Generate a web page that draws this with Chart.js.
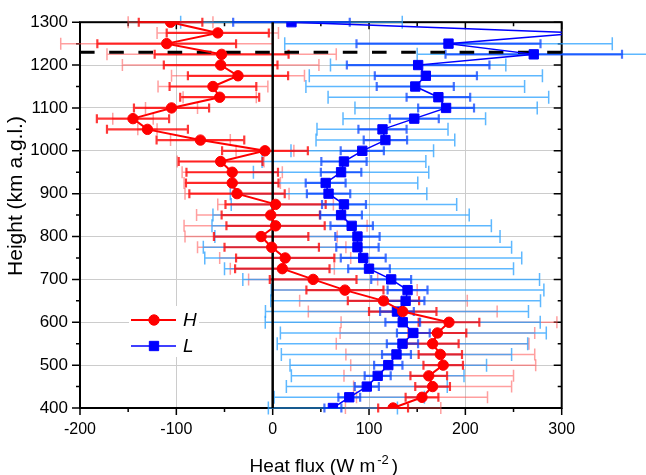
<!DOCTYPE html>
<html>
<head>
<meta charset="utf-8">
<script src="https://cdn.jsdelivr.net/npm/chart.js@4.4.0/dist/chart.umd.min.js"></script>
<style>
  html, body { margin: 0; padding: 0; background: #fff; }
  canvas { display: block; }
</style>
</head>
<body>
<canvas id="fluxChart" width="646" height="475"></canvas>
<script>
// Profile levels (km a.g.l.)
const HEIGHTS = [400, 425, 450, 475, 500, 525, 550, 575, 600, 625, 650, 675, 700, 725, 750, 775, 800, 825, 850,
    875, 900, 925, 950, 975, 1000, 1025, 1050, 1075, 1100, 1125, 1150, 1175, 1200, 1225, 1250, 1275, 1300];

// H profile: mean flux and the two error half-widths (short dark bar, long light bar)
const H_FLUX = [125, 155, 166, 162, 177, 174, 166, 171, 183, 135, 115, 75, 42, 10, 13, -1, -12, 3, -2,
    3, -37, -42, -42, -54, -8, -75, -130, -145, -105, -55, -62, -36, -54, -53, -110, -57, -106];
const H_ERR_DARK = [15.5, 17, 18, 19, 20.5, 22.5, 27, 30, 31.5, 35, 37, 40, 45, 49, 51, 49, 49, 51, 51,
    52, 49.5, 48, 47.5, 43.5, 44.5, 45.5, 42, 37.5, 39, 41, 45, 52, 59, 69.5, 72, 53, 33];
const H_ERR_LIGHT = [49.5, 68, 82, 88, 96, 98, 100, 101, 112, 98, 87, 75, 67, 54, 68, 77, 79, 95, 77,
    60, 54, 50, 52, 45, 30, 31, 10, 21, 27, 38, 57, 69, 102, 119, 110, 63, 44];

// L profile
const L_FLUX = [62.5, 79.5, 97.7, 109, 120, 128.5, 134.7, 146, 135, 129, 138, 140, 123, 100, 94, 88, 88, 82, 71,
    74, 58, 55, 71, 74, 93, 117, 114, 147, 180, 172, 148, 159, 151, 271, 182.5, 322, 19.5];
const L_ERR_DARK = [8.8, 11.3, 12.5, 13.5, 14.7, 15, 16.2, 17, 18, 17.5, 19.5, 20.7, 20.7, 21.6, 23.3, 22, 23, 22, 21.6,
    22.8, 22.5, 20.7, 21, 23.5, 22.4, 22.5, 25, 25.4, 29, 33, 40, 53, 74, 91.6, 95.5, 0, 60.5];
const L_ERR_LIGHT = [67, 78, 83.5, 89.6, 102, 119.5, 130, 138, 142.7, 136.5, 140, 141.5, 154, 150, 164.5, 160, 148, 145, 133,
    117, 102, 95.6, 91, 85, 74, 72, 68, 74, 94.6, 114.5, 113.5, 121, 91, 121, 170, 0, 115];

// Axis ranges and ticks
const X_MIN = -200, X_MAX = 300, X_STEP = 100;
const Y_MIN = 400, Y_MAX = 1300, Y_STEP = 100;
const DASHED_HEIGHT = 1230;

const FONT = "'Liberation Sans', Arial, sans-serif";

function toPoints(values) {
    return HEIGHTS.map((h, i) => ({ x: values[i], y: h }));
}

function drawErrorBars(ctx, xs, ys, values, errs, color, width, capHalf) {
    ctx.save();
    ctx.strokeStyle = color;
    ctx.lineWidth = width;
    HEIGHTS.forEach((h, i) => {
        const e = errs[i];
        if (!e) return;
        const y = ys.getPixelForValue(h);
        const x1 = xs.getPixelForValue(values[i] - e);
        const x2 = xs.getPixelForValue(values[i] + e);
        ctx.beginPath();
        ctx.moveTo(x1, y);
        ctx.lineTo(x2, y);
        ctx.moveTo(x1, y - capHalf);
        ctx.lineTo(x1, y + capHalf);
        ctx.moveTo(x2, y - capHalf);
        ctx.lineTo(x2, y + capHalf);
        ctx.stroke();
    });
    ctx.restore();
}

// Frame, tick marks, error bars, zero line and dashed level: all under the data lines
const underlayPlugin = {
    id: 'underlay',
    beforeDatasetsDraw(chart) {
        const { ctx, chartArea: a, scales: { x, y } } = chart;
        ctx.save();
        ctx.strokeStyle = '#000';
        ctx.lineWidth = 1.5;
        ctx.beginPath();
        for (let v = X_MIN; v <= X_MAX; v += X_STEP / 2) {
            const px = x.getPixelForValue(v);
            const len = v % X_STEP === 0 ? 7 : 4;
            ctx.moveTo(px, a.bottom); ctx.lineTo(px, a.bottom + len);
            ctx.moveTo(px, a.top); ctx.lineTo(px, a.top + len);
        }
        for (let v = Y_MIN; v <= Y_MAX; v += Y_STEP / 2) {
            const py = y.getPixelForValue(v);
            const len = v % Y_STEP === 0 ? 8 : 4;
            ctx.moveTo(a.left, py); ctx.lineTo(a.left - len, py);
            ctx.moveTo(a.right, py); ctx.lineTo(a.right - len, py);
        }
        ctx.stroke();
        ctx.lineWidth = 2;
        ctx.strokeRect(a.left, a.top, a.right - a.left, a.bottom - a.top);
        ctx.restore();

        drawErrorBars(ctx, x, y, H_FLUX, H_ERR_LIGHT, 'rgba(255, 80, 80, 0.55)', 1.5, 6);
        drawErrorBars(ctx, x, y, L_FLUX, L_ERR_LIGHT, 'rgba(40, 160, 255, 0.75)', 1.5, 6.5);
        drawErrorBars(ctx, x, y, H_FLUX, H_ERR_DARK, 'rgba(255, 0, 0, 0.78)', 2.2, 4.5);
        drawErrorBars(ctx, x, y, L_FLUX, L_ERR_DARK, 'rgba(0, 60, 255, 0.72)', 2.2, 4.5);

        ctx.save();
        ctx.strokeStyle = '#000';
        ctx.lineWidth = 2.5;
        const x0 = x.getPixelForValue(0);
        ctx.beginPath();
        ctx.moveTo(x0, a.top);
        ctx.lineTo(x0, a.bottom);
        ctx.stroke();

        ctx.lineWidth = 3;
        ctx.setLineDash([14.6, 14.6]);
        const yd = y.getPixelForValue(DASHED_HEIGHT);
        ctx.beginPath();
        ctx.moveTo(a.left, yd);
        ctx.lineTo(a.right, yd);
        ctx.stroke();
        ctx.restore();
    }
};

// Legend box inside the plot and the axis titles
const overlayPlugin = {
    id: 'overlay',
    afterDraw(chart) {
        const { ctx, chartArea: a } = chart;
        ctx.save();
        ctx.fillStyle = '#fff';
        ctx.fillRect(129, 306, 70, 51);

        chart.data.datasets.forEach((ds, i) => {
            const ly = 320 + i * 26;
            ctx.strokeStyle = ds.borderColor;
            ctx.lineWidth = ds.borderWidth;
            ctx.beginPath();
            ctx.moveTo(131, ly);
            ctx.lineTo(176, ly);
            ctx.stroke();
            ctx.fillStyle = ds.pointBackgroundColor;
            ctx.strokeStyle = ds.pointBorderColor;
            ctx.lineWidth = 1;
            ctx.beginPath();
            if (ds.pointStyle === 'circle') {
                ctx.arc(154, ly, ds.pointRadius, 0, Math.PI * 2);
            } else {
                const s = ds.pointRadius * Math.SQRT1_2;
                ctx.rect(154 - s, ly - s, 2 * s, 2 * s);
            }
            ctx.fill();
            ctx.stroke();
            ctx.fillStyle = '#000';
            ctx.font = 'italic 19px ' + FONT;
            ctx.textBaseline = 'middle';
            ctx.textAlign = 'left';
            ctx.fillText(ds.label, 183, ly + 1);
        });

        // x title with superscript
        ctx.fillStyle = '#000';
        ctx.textBaseline = 'alphabetic';
        ctx.textAlign = 'left';
        const main = 'Heat flux (W m';
        ctx.font = '19px ' + FONT;
        const wMain = ctx.measureText(main).width;
        const wClose = ctx.measureText(')').width;
        ctx.font = '13px ' + FONT;
        const wSup = ctx.measureText('-2').width;
        const total = wMain + 2 + wSup + 3 + wClose;
        let tx = (a.left + a.right) / 2 + 3 - total / 2;
        const base = 472;
        ctx.font = '19px ' + FONT;
        ctx.fillText(main, tx, base);
        tx += wMain + 2;
        ctx.font = '13px ' + FONT;
        ctx.fillText('-2', tx, base - 8);
        tx += wSup + 3;
        ctx.font = '19px ' + FONT;
        ctx.fillText(')', tx, base);

        // y title
        ctx.translate(16, 196);
        ctx.rotate(-Math.PI / 2);
        ctx.textAlign = 'center';
        ctx.textBaseline = 'middle';
        ctx.font = '21px ' + FONT;
        ctx.fillText('Height (km a.g.l.)', 0, 0);
        ctx.restore();
    }
};

const fluxChart = new Chart(document.getElementById('fluxChart'), {
    type: 'line',
    data: {
        datasets: [{
            label: 'H',
            data: toPoints(H_FLUX),
            borderColor: '#ff0000',
            borderWidth: 2,
            pointStyle: 'circle',
            pointRadius: 5.2,
            pointBackgroundColor: '#ff0000',
            pointBorderColor: '#ff0000',
            pointBorderWidth: 1,
            tension: 0
        }, {
            label: 'L',
            data: toPoints(L_FLUX),
            borderColor: '#0000ff',
            borderWidth: 1.5,
            pointStyle: 'rect',
            pointRadius: 6.6,
            pointBackgroundColor: '#0000ff',
            pointBorderColor: '#0000ff',
            pointBorderWidth: 1,
            tension: 0
        }]
    },
    options: {
        responsive: false,
        animation: false,
        devicePixelRatio: 1,
        layout: { padding: { left: 0, right: 84.3, top: 19.3, bottom: 0 } },
        plugins: {
            legend: { display: false },
            tooltip: { enabled: false }
        },
        scales: {
            x: {
                type: 'linear',
                min: X_MIN,
                max: X_MAX,
                ticks: {
                    stepSize: X_STEP,
                    color: '#000',
                    padding: 12,
                    maxRotation: 0,
                    font: { family: FONT, size: 16 },
                    callback: (v) => String(v)
                },
                grid: {
                    drawTicks: false,
                    color: (c) => (c.tick && c.tick.value > X_MIN && c.tick.value < X_MAX && c.tick.value !== 0) ? '#cccccc' : 'rgba(0,0,0,0)'
                },
                border: { display: false },
                afterFit: (scale) => { scale.height = 67; }
            },
            y: {
                type: 'linear',
                min: Y_MIN,
                max: Y_MAX,
                ticks: {
                    stepSize: Y_STEP,
                    color: '#000',
                    padding: 12,
                    font: { family: FONT, size: 17 },
                    callback: (v) => String(v)
                },
                grid: {
                    drawTicks: false,
                    color: (c) => (c.tick && c.tick.value > Y_MIN && c.tick.value < Y_MAX) ? '#cccccc' : 'rgba(0,0,0,0)'
                },
                border: { display: false },
                afterFit: (scale) => { scale.width = 80; }
            }
        }
    },
    plugins: [underlayPlugin, overlayPlugin]
});
</script>
</body>
</html>
